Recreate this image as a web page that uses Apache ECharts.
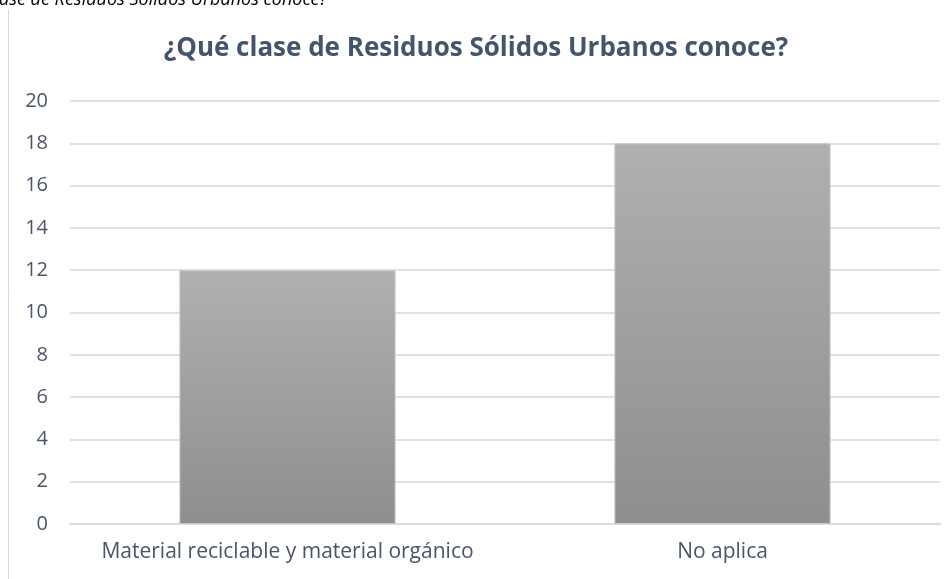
<!DOCTYPE html>
<html>
<head>
<meta charset="utf-8">
<script src="https://cdn.jsdelivr.net/npm/echarts@6/dist/echarts.min.js"></script>
<style>
  html, body { margin: 0; padding: 0; background: #fff; }
  #chart { width: 950px; height: 579px; }
</style>
</head>
<body>
<div id="chart"></div>
<script>
const categories = ['Material reciclable y material orgánico', 'No aplica']
const values = [12, 18]
const yTicks = { min: 0, max: 20, interval: 2 }
const titleText = '¿Qué clase de Residuos Sólidos Urbanos conoce?'
const captionText = 'ase de Residuos Sólidos Urbanos conoce?'

const chart = echarts.init(document.getElementById('chart'))

chart.setOption({
  animation: false,
  title: {
    text: titleText,
    left: 471,
    textAlign: 'center',
    top: 31,
    textStyle: {
      fontFamily: 'Open Sans',
      fontSize: 26,
      fontWeight: 'bold',
      color: '#44546a'
    }
  },
  graphic: [
    {
      // left border of the chart box
      type: 'line',
      shape: { x1: 8.5, y1: 10, x2: 8.5, y2: 579 },
      style: { stroke: '#d9d9d9', lineWidth: 1 }
    },
    {
      // caption above, cut off by the crop
      type: 'text',
      left: -1,
      top: -9,
      style: {
        text: captionText,
        font: 'italic 18px "Open Sans"',
        fill: '#000'
      }
    }
  ],
  grid: {
    left: 70,
    right: 10,
    top: 101,
    bottom: 55,
    containLabel: false
  },
  xAxis: {
    type: 'category',
    data: categories,
    axisLine: { show: true, lineStyle: { color: '#d9dde5', width: 2 } },
    axisTick: { show: false },
    axisLabel: {
      interval: 0,
      hideOverlap: false,
      fontFamily: 'Open Sans',
      fontSize: 21,
      color: '#4a5568',
      margin: 18
    }
  },
  yAxis: {
    type: 'value',
    min: yTicks.min,
    max: yTicks.max,
    interval: yTicks.interval,
    axisLine: { show: false },
    axisTick: { show: false },
    splitLine: { lineStyle: { color: '#dde1e8', width: 2 } },
    axisLabel: {
      fontFamily: 'Open Sans',
      fontSize: 20,
      color: '#4a5568',
      margin: 22,
      align: 'right'
    }
  },
  series: [{
    type: 'bar',
    data: values,
    barWidth: '49.7%',
    itemStyle: {
      color: new echarts.graphic.LinearGradient(0, 0, 0, 1, [
        { offset: 0, color: '#b0b0b0' },
        { offset: 1, color: '#8e8e8e' }
      ]),
      borderColor: '#c8c8c8',
      borderWidth: 1
    }
  }]
})
</script>
</body>
</html>
